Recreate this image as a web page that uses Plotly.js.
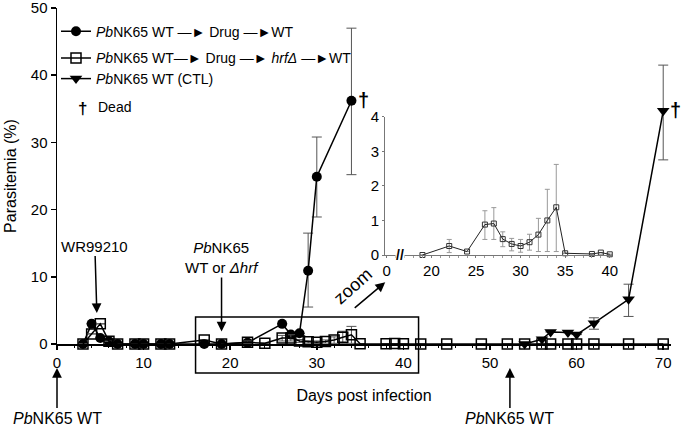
<!DOCTYPE html>
<html><head><meta charset="utf-8">
<script src="https://cdn.plot.ly/plotly-3.0.1.min.js"></script>
<style>html,body{margin:0;padding:0;background:#fff}</style>
</head><body><div id="chart" style="width:685px;height:432px"></div>
<script>
// Series 1: PbNK65 WT -> Drug -> WT (filled circles)
const wtDays    = [3, 4,   5,   6,   7, 9, 10, 12, 13, 17, 19, 22,  26,  27,  28,  29,   30,   34];
const wtVals    = [0, 3.0, 0.9, 0.4, 0, 0, 0,  0,  0,  0,  0,  0.2, 3.0, 1.4, 1.6, 10.9, 24.9, 36.2];
const wtErrUp   = [0, 0,   0,   0,   0, 0, 0,  0,  0,  0,  0,  0,   0,   0,   0,   5.6,  5.9,  10.8];
const wtErrDown = [0, 0,   0,   0,   0, 0, 0,  0,  0,  0,  0,  0,   0,   0,   0,   5.4,  6.0,  11.0];

// Series 2: PbNK65 WT -> Drug -> hrfΔ -> WT (open squares)
const hrfDays    = [3, 4,   5,   6,   7, 9, 10, 12, 13, 17,  19, 22,   24,  26,   27,   28,   29,   30,   31,   32,   33,  34,   35,   38,   39,   40,   42, 45, 49, 52, 54, 56, 57, 59, 60, 62, 66, 70];
const hrfVals    = [0, 1.5, 3.0, 0.4, 0, 0, 0,  0,  0,  0.6, 0,  0.26, 0.1, 0.88, 0.91, 0.46, 0.32, 0.26, 0.37, 0.59, 1.0, 1.38, 0.05, 0.03, 0.07, 0.02, 0,  0,  0,  0,  0,  0,  0,  0,  0,  0,  0,  0];
const hrfErrUp   = [0, 0,   0,   0,   0, 0, 0,  0,  0,  0,   0,  0.19, 0,   0.40, 0.46, 0.21, 0.16, 0.19, 0.23, 0.47, 0.9, 1.24, 0,    0,    0,    0,    0,  0,  0,  0,  0,  0,  0,  0,  0,  0,  0,  0];
const hrfErrDown = [0, 0,   0,   0,   0, 0, 0,  0,  0,  0,   0,  0.19, 0,   0.43, 0.46, 0.22, 0.20, 0.18, 0.23, 0.49, 0.9, 1.28, 0,    0,    0,    0,    0,  0,  0,  0,  0,  0,  0,  0,  0,  0,  0,  0];

// Series 3: PbNK65 WT (CTL) (filled down triangles)
const ctlDays    = [54, 56,  57,  59,  60,  62,  66,   70];
const ctlVals    = [0,  0.7, 1.8, 1.7, 1.4, 3.1, 6.65, 34.7];
const ctlErrUp   = [0,  0,   0,   0,   0,   0.8, 2.25, 6.8];
const ctlErrDown = [0,  0,   0,   0,   0,   0.9, 2.55, 7.3];

// Inset (zoom) window of the hrfΔ series
const insetFrom = 19, insetTo = 40;

const xTickVals = [0, 10, 20, 30, 40, 50, 60, 70];
const yTickVals = [0, 10, 20, 30, 40, 50];
const insetTickVals = [15, 20, 25, 30, 35, 40];
const insetTickText = ['0', '20', '25', '30', '35', '40'];

const ARROW = '—►';
const seriesNames = [
  '<i>Pb</i>NK65 WT ' + ARROW + ' Drug ' + ARROW + 'WT',
  '<i>Pb</i>NK65 WT' + ARROW + ' Drug ' + ARROW + ' <i>hrfΔ</i> ' + ARROW + 'WT',
  '<i>Pb</i>NK65 WT (CTL)'
];

const FONT = 'Liberation Sans, Arial, Helvetica, sans-serif';

const inIdx = hrfDays.map((d, i) => i).filter(i => hrfDays[i] >= insetFrom && hrfDays[i] <= insetTo);
const pick = (arr) => inIdx.map(i => arr[i]);

const errStyle = (up, down) => ({type: 'data', symmetric: false, array: up, arrayminus: down,
  color: '#555', thickness: 1, width: 5});

const traces = [
  {x: wtDays, y: wtVals, type: 'scatter', mode: 'lines+markers', name: seriesNames[0],
   line: {color: '#000', width: 1.5}, marker: {symbol: 'circle', size: 10, color: '#000'},
   error_y: errStyle(wtErrUp, wtErrDown), cliponaxis: false, legend: 'legend'},
  {x: hrfDays, y: hrfVals, type: 'scatter', mode: 'lines+markers', name: seriesNames[1],
   line: {color: '#000', width: 1.5}, marker: {symbol: 'square-open', size: 10, color: '#000', line: {width: 1.5}},
   error_y: errStyle(hrfErrUp, hrfErrDown), cliponaxis: false, legend: 'legend2'},
  {x: ctlDays, y: ctlVals, type: 'scatter', mode: 'lines+markers', name: seriesNames[2],
   line: {color: '#000', width: 1.5}, marker: {symbol: 'triangle-down', size: 11, color: '#000'},
   error_y: errStyle(ctlErrUp, ctlErrDown), cliponaxis: false, legend: 'legend3'},
  {x: pick(hrfDays), y: pick(hrfVals), xaxis: 'x2', yaxis: 'y2', type: 'scatter', mode: 'lines+markers',
   showlegend: false, line: {color: '#222', width: 1}, marker: {symbol: 'square-open', size: 5, color: '#333', line: {width: 1}},
   error_y: {type: 'data', symmetric: false, array: pick(hrfErrUp), arrayminus: pick(hrfErrDown), color: '#999', thickness: 1, width: 2.5},
   cliponaxis: false}
];

// plot geometry helpers (paper fractions)
const W = 685, H = 432, mL = 57, mR = 14, mT = 8, mB = 88;
const pw = W - mL - mR, ph = H - mT - mB;
const px2paperX = p => (p - mL) / pw;
const px2paperY = p => (H - mB - p) / ph;

const legendAt = (rowY) => ({x: px2paperX(56), y: px2paperY(rowY), xanchor: 'left', yanchor: 'middle',
  bgcolor: 'rgba(0,0,0,0)', borderwidth: 0, font: {size: 14, family: FONT}});

const arrowStyle = {arrowhead: 2, arrowsize: 1.3, arrowwidth: 1.5, arrowcolor: '#000'};

const layout = {
  width: W, height: H,
  margin: {l: mL, r: mR, t: mT, b: mB, pad: 0},
  paper_bgcolor: '#fff', plot_bgcolor: 'rgba(0,0,0,0)',
  font: {family: FONT, size: 15, color: '#000'},
  showlegend: true,
  legend: legendAt(31.7),
  legend2: legendAt(58.3),
  legend3: legendAt(79),
  xaxis: {range: [0, 70.9], showline: true, linecolor: '#000', linewidth: 1.5, mirror: false,
    ticks: 'outside', ticklen: 4, tickwidth: 1.5, tickcolor: '#000', tickvals: xTickVals,
    minor: {dtick: 2, tick0: 0, ticks: 'outside', ticklen: 2, tickwidth: 1, tickcolor: '#000', showgrid: false},
    showgrid: false, zeroline: false, tickfont: {size: 15}, ticklabeloverflow: 'allow',
    title: {text: 'Days post infection', font: {size: 16}, standoff: 20}},
  yaxis: {range: [0, 50], showline: true, linecolor: '#000', linewidth: 1.5,
    ticks: 'outside', ticklen: 5, tickwidth: 1.5, tickcolor: '#000', tickvals: yTickVals,
    showgrid: false, zeroline: false, tickfont: {size: 15}, ticklabeloverflow: 'allow',
    title: {text: 'Parasitemia (%)', font: {size: 16}, standoff: 10}},
  xaxis2: {domain: [px2paperX(385), px2paperX(612)], anchor: 'y2', range: [14.8, 40.25],
    showline: true, linecolor: '#777', linewidth: 1, tickvals: insetTickVals, ticktext: insetTickText,
    ticks: 'outside', ticklen: 2, tickcolor: '#777', ticklabeloverflow: 'allow',
    minor: {dtick: 1, tick0: 0, ticks: 'outside', ticklen: 2, tickcolor: '#999', showgrid: false},
    showgrid: false, zeroline: false, tickfont: {size: 15}},
  yaxis2: {domain: [px2paperY(255), px2paperY(116.7)], anchor: 'x2', range: [0, 4], dtick: 1,
    showline: true, linecolor: '#777', linewidth: 1, ticks: 'outside', ticklen: 2, tickcolor: '#777',
    ticklabeloverflow: 'allow', showgrid: false, zeroline: false, tickfont: {size: 15}},
  shapes: [
    {type: 'rect', xref: 'x', yref: 'paper', x0: 16.0, x1: 41.75, y0: px2paperY(373), y1: px2paperY(317),
     line: {color: '#000', width: 1.5}, fillcolor: 'rgba(0,0,0,0)'}
  ],
  annotations: [
    Object.assign({xref: 'x', yref: 'y', x: 4.6, y: 4.6, ax: -2, ay: -67, text: 'WR99210', showarrow: true, font: {size: 15}}, arrowStyle),
    Object.assign({xref: 'x', yref: 'y', x: 19.0, y: 1.85, ax: 0, ay: -74, text: '<i>Pb</i>NK65<br>WT or <i>Δhrf</i>', showarrow: true, font: {size: 15}}, arrowStyle),
    {xref: 'x', yref: 'y', x: 34.2, y: 8.6, text: 'zoom', showarrow: false, textangle: -42, font: {size: 18}},
    Object.assign({xref: 'x', yref: 'y', x: 37.9, y: 9.2, ax: -32, ay: 27, text: '', showarrow: true}, arrowStyle),
    Object.assign({xref: 'x', yref: 'paper', x: 0, y: px2paperY(368), ax: 0, ay: 50, text: '<i>Pb</i>NK65 WT', showarrow: true, font: {size: 16}}, arrowStyle),
    Object.assign({xref: 'x', yref: 'paper', x: 52.3, y: px2paperY(368), ax: 0, ay: 50, text: '<i>Pb</i>NK65 WT', showarrow: true, font: {size: 16}}, arrowStyle),
    {xref: 'x', yref: 'y', x: wtDays[wtDays.length - 1], y: wtVals[wtVals.length - 1], xshift: 12, yshift: 1,
     text: '<b>†</b>', showarrow: false, font: {size: 20}},
    {xref: 'x', yref: 'y', x: ctlDays[ctlDays.length - 1], y: ctlVals[ctlVals.length - 1], xshift: 12, yshift: 1,
     text: '<b>†</b>', showarrow: false, font: {size: 20}},
    {xref: 'x2', yref: 'y2', x: 16.5, y: 0, text: '<b>//</b>', showarrow: false, font: {size: 14},
     bgcolor: '#fff', borderpad: 0},
    {xref: 'paper', yref: 'paper', x: px2paperX(76), y: px2paperY(97), text: '<b>†</b>', showarrow: false, font: {size: 17}},
    {xref: 'paper', yref: 'paper', x: px2paperX(96), y: px2paperY(97), xanchor: 'left', text: 'Dead', showarrow: false, font: {size: 14}}
  ]
};

Plotly.newPlot('chart', traces, layout, {staticPlot: true, displayModeBar: false});
</script>
</body></html>
